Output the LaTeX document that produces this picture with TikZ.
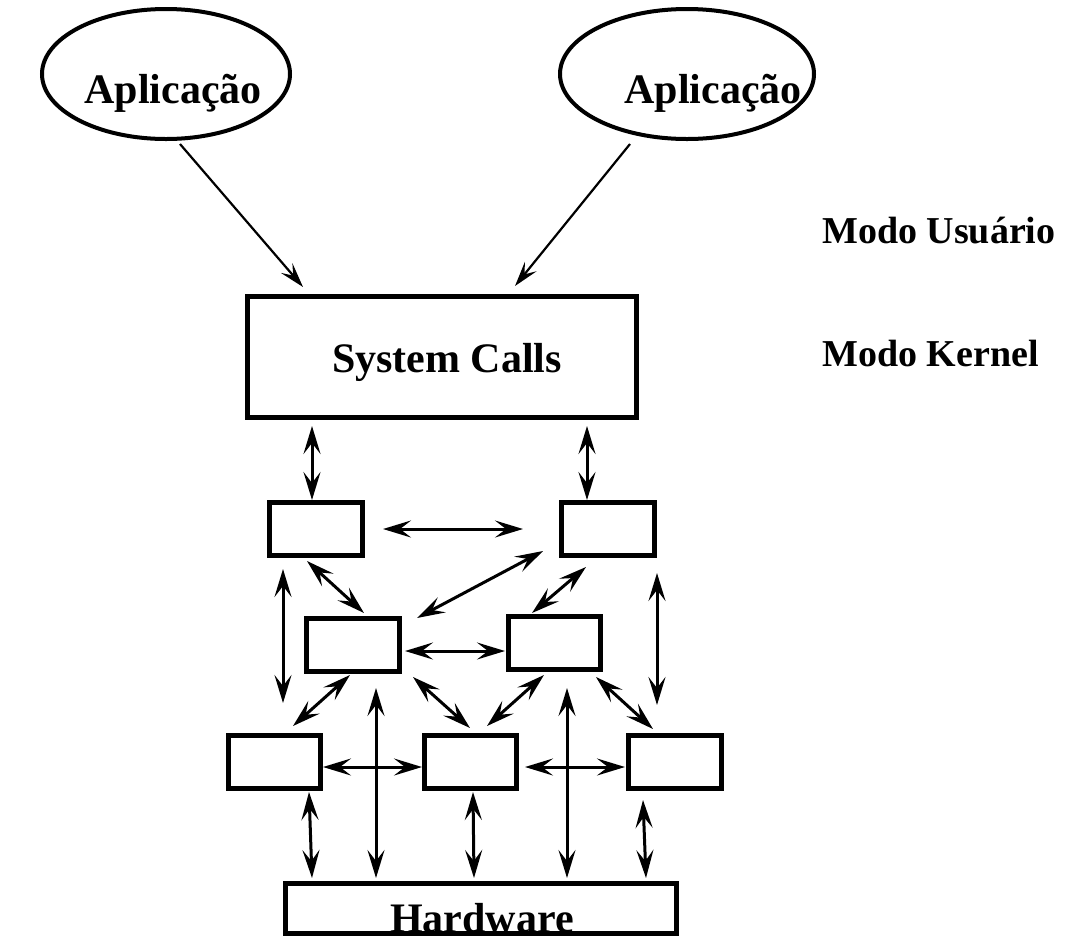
\documentclass[tikz,border=0pt]{standalone}
\usepackage{fontspec}
\setmainfont{Liberation Serif}
\usetikzlibrary{arrows.meta}
\begin{document}
\begin{tikzpicture}[x=1pt,y=-1pt,
  box/.style={draw,line width=5pt,inner sep=0pt},
  conn/.style={line width=3pt,{Stealth[length=28pt,width=17pt,inset=11pt]}-{Stealth[length=28pt,width=17pt,inset=11pt]}},
  oneway/.style={line width=2.2pt,-{Stealth[length=25pt,width=15pt,inset=10pt]}},
  lbl/.style={font=\fontsize{42}{50}\selectfont\bfseries,inner sep=0pt,anchor=base},
  side/.style={font=\fontsize{38}{46}\selectfont\bfseries,inner sep=0pt,anchor=base west}]
\useasboundingbox (0,0) rectangle (1087,938);
% ellipses
\draw[line width=4pt] (166,74) ellipse [x radius=124, y radius=65];
\draw[line width=4pt] (687,74) ellipse [x radius=127, y radius=65];
\node[lbl] (app1) at (173,103) {Aplicação};
\node[lbl] (app2) at (713,103) {Aplicação};
\node[side] (mu) at (822,243) {Modo Usuário};
\node[side] (mk) at (822,366) {Modo Kernel};
% boxes
\node[box,minimum width=389pt,minimum height=121pt] (sc) at (442,357) {};
\node[lbl] (sct) at (447,372) {System Calls};
\node[box,minimum width=93pt,minimum height=53pt] (A) at (316,529) {};
\node[box,minimum width=93pt,minimum height=53pt] (B) at (608,529) {};
\node[box,minimum width=93pt,minimum height=53pt] (C) at (353,645) {};
\node[box,minimum width=92pt,minimum height=53pt] (D) at (554.5,643) {};
\node[box,minimum width=92pt,minimum height=53pt] (E) at (274.5,762) {};
\node[box,minimum width=92pt,minimum height=53pt] (F) at (470.5,762) {};
\node[box,minimum width=93pt,minimum height=53pt] (G) at (675,762) {};
\node[box,minimum width=391pt,minimum height=50pt] (hw) at (481,908.5) {};
\node[lbl] (hwt) at (482,932) {Hardware};
% endpoints
\coordinate (e1s) at (180,144); \coordinate (e1e) at (303,287);
\coordinate (e2s) at (630,144); \coordinate (e2e) at (515,286);
\draw[oneway] (e1s) -- (e1e);
\draw[oneway] (e2s) -- (e2e);
\coordinate (scA1) at (312,426); \coordinate (scA2) at (312,500);
\coordinate (scB1) at (587,426); \coordinate (scB2) at (587,500);
\coordinate (ab1) at (383,529); \coordinate (ab2) at (523,529);
\coordinate (ac1) at (307,561); \coordinate (ac2) at (364,613);
\coordinate (bc1) at (543,551); \coordinate (bc2) at (417,618);
\coordinate (bd1) at (586,567); \coordinate (bd2) at (532,613);
\coordinate (ae1) at (283,569); \coordinate (ae2) at (283,703);
\coordinate (bg1) at (657,573); \coordinate (bg2) at (657,705);
\coordinate (cd1) at (405,651); \coordinate (cd2) at (505,651);
\coordinate (ce1) at (350,675); \coordinate (ce2) at (293,726);
\coordinate (cf1) at (413,677); \coordinate (cf2) at (470,728);
\coordinate (df1) at (544,675); \coordinate (df2) at (487,726);
\coordinate (dg1) at (596,677); \coordinate (dg2) at (653,729);
\coordinate (ef1) at (323,767); \coordinate (ef2) at (422,767);
\coordinate (fg1) at (525,767); \coordinate (fg2) at (625,767);
\coordinate (l11) at (376,688); \coordinate (l12) at (376,878);
\coordinate (l21) at (567,688); \coordinate (l22) at (567,878);
\coordinate (eh1) at (309,792); \coordinate (eh2) at (312,878);
\coordinate (fh1) at (473,792); \coordinate (fh2) at (474,878);
\coordinate (gh1) at (643,800); \coordinate (gh2) at (646,878);
\foreach \p/\q in {scA1/scA2,scB1/scB2,ab1/ab2,ac1/ac2,bc1/bc2,bd1/bd2,ae1/ae2,bg1/bg2,cd1/cd2,ce1/ce2,cf1/cf2,df1/df2,dg1/dg2,ef1/ef2,fg1/fg2,l11/l12,l21/l22,eh1/eh2,fh1/fh2,gh1/gh2}
  \draw[conn] (\p) -- (\q);
\end{tikzpicture}
\end{document}
